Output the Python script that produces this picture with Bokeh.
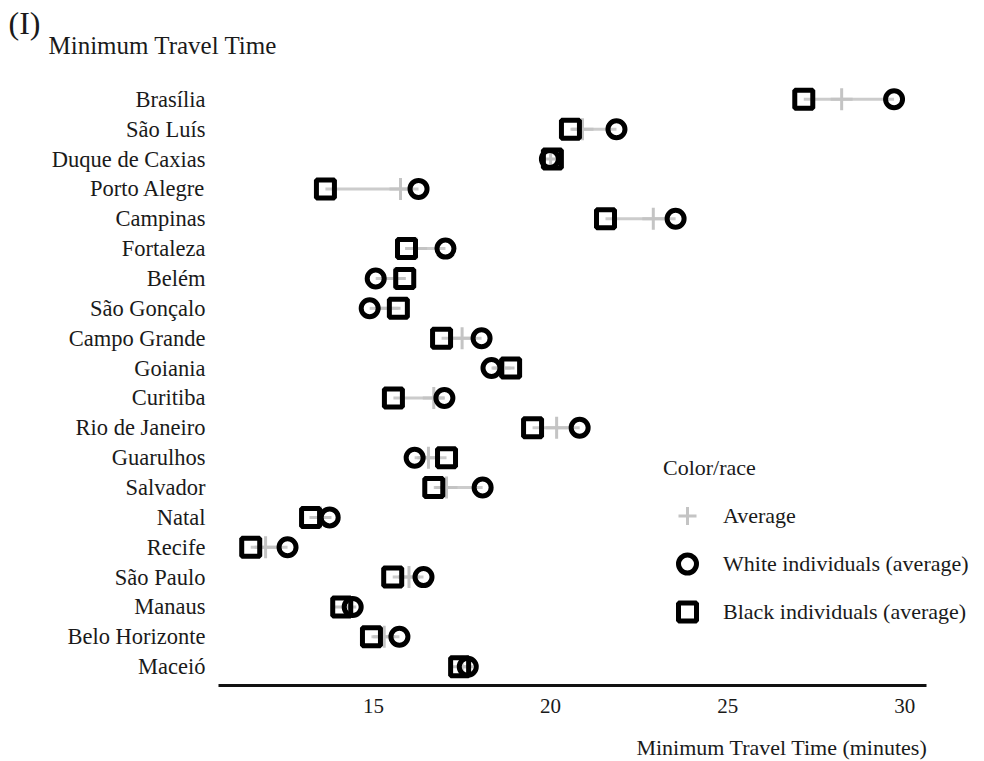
from bokeh.plotting import figure
from bokeh.layouts import column
from bokeh.models import Range1d, FactorRange, Legend, LegendItem, ColumnDataSource, FixedTicker, Label, Title
from bokeh.embed import file_html
from bokeh.resources import INLINE

cities = ["Brasília", "São Luís", "Duque de Caxias", "Porto Alegre", "Campinas",
          "Fortaleza", "Belém", "São Gonçalo", "Campo Grande", "Goiania",
          "Curitiba", "Rio de Janeiro", "Guarulhos", "Salvador", "Natal",
          "Recife", "São Paulo", "Manaus", "Belo Horizonte", "Maceió"]
black_avg = [27.15, 20.56, 20.05, 13.64, 21.55, 15.93, 15.88, 15.70, 16.92, 18.87,
             15.56, 19.49, 17.06, 16.70, 13.22, 11.53, 15.54, 14.10, 14.94, 17.43]
white_avg = [29.70, 21.86, 19.98, 16.27, 23.53, 17.03, 15.06, 14.89, 18.05, 18.33,
             17.00, 20.82, 16.16, 18.08, 13.76, 12.57, 16.41, 14.41, 15.73, 17.66]
overall_avg = [28.22, 20.90, 20.00, 15.76, 22.90, 16.20, 15.60, 15.45, 17.50, 18.67,
               16.70, 20.17, 16.55, 17.06, 13.50, 11.95, 16.00, 14.20, 15.30, 17.50]
x_ticks = [15, 20, 25, 30]

FONT = "Liberation Serif"
TXT = "#1a1a1a"
W = 980
FRAME_LEFT = 218


def text_strip(height, **borders):
    f = figure(width=W, height=height, output_backend="svg", toolbar_location=None,
               x_range=Range1d(0, 1), y_range=Range1d(0, 1),
               x_axis_type=None, y_axis_type=None, **borders)
    f.outline_line_color = None
    f.xgrid.grid_line_color = None
    f.ygrid.grid_line_color = None
    f.border_fill_color = "white"
    return f


# ---- top strip: panel tag and title (titles stacked below an empty frame)
top = text_strip(80, min_border_top=0, min_border_bottom=61)
t_tag = Title(text="(I)", align="left", offset=8 - FRAME_LEFT,
              text_font=FONT, text_font_size="32px", text_font_style="normal",
              text_color=TXT, vertical_align="middle", standoff=-31)
t_sub = Title(text="Minimum Travel Time", align="left", offset=48 - FRAME_LEFT,
              text_font=FONT, text_font_size="25px", text_font_style="normal",
              text_color=TXT, vertical_align="middle", standoff=8)
top.add_layout(t_tag, "below")
top.add_layout(t_sub, "below")

# ---- main chart
src = ColumnDataSource(dict(city=cities, black=black_avg, white=white_avg, avg=overall_avg))

MAIN_H = 645
p = figure(width=W, height=MAIN_H, output_backend="svg", toolbar_location=None,
           x_range=Range1d(10.62, 32.0),
           y_range=FactorRange(factors=cities[::-1], range_padding=0.13,
                               range_padding_units="absolute"),
           min_border_left=FRAME_LEFT, min_border_right=4, min_border_top=0,
           min_border_bottom=MAIN_H - 605)
p.outline_line_color = None
p.xgrid.grid_line_color = None
p.ygrid.grid_line_color = None
p.background_fill_color = "white"
p.border_fill_color = "white"

xa = p.xaxis[0]
xa.ticker = FixedTicker(ticks=x_ticks)
xa.bounds = (10.62, 30.62)
xa.axis_line_width = 3
xa.axis_line_color = "#111111"
xa.major_tick_line_color = None
xa.minor_tick_line_color = None
xa.major_tick_out = 0
xa.major_tick_in = 0
xa.major_label_standoff = 13
xa.major_label_text_font = FONT
xa.major_label_text_font_size = "21px"
xa.major_label_text_color = TXT

ya = p.yaxis[0]
ya.axis_line_color = None
ya.major_tick_line_color = None
ya.minor_tick_line_color = None
ya.major_tick_out = 0
ya.major_tick_in = 0
ya.major_label_standoff = 13
ya.major_label_text_font = FONT
ya.major_label_text_font_size = "22.5px"
ya.major_label_text_color = TXT

p.segment(x0="black", y0="city", x1="white", y1="city", source=src,
          line_color="#cccccc", line_width=3)
r_avg = p.scatter(x="avg", y="city", source=src, marker="cross", size=22,
                  line_color="#c4c4c4", line_width=3)
r_white = p.scatter(x="white", y="city", source=src, marker="circle", size=17,
                    fill_alpha=0, line_color="black", line_width=5)
r_black = p.scatter(x="black", y="city", source=src, marker="square", size=18,
                    fill_alpha=0, line_color="black", line_width=5)

legend = Legend(items=[LegendItem(label="Average", renderers=[r_avg]),
                       LegendItem(label="White individuals (average)", renderers=[r_white]),
                       LegendItem(label="Black individuals (average)", renderers=[r_black])],
                title="Color/race", location=(445, 51), orientation="vertical")
legend.border_line_color = None
legend.background_fill_alpha = 0
legend.padding = 0
legend.margin = 0
legend.spacing = 3
legend.glyph_width = 48
legend.glyph_height = 45
legend.label_height = 45
legend.label_standoff = 12
legend.label_text_font = FONT
legend.label_text_font_size = "22px"
legend.label_text_color = TXT
legend.title_text_font = FONT
legend.title_text_font_size = "22px"
legend.title_text_font_style = "normal"
legend.title_text_color = TXT
legend.title_standoff = 12
p.add_layout(legend, "center")

# ---- bottom strip: x axis title, right-aligned to the axis end
BOT_H = 35
bottom = text_strip(BOT_H, min_border_top=0, min_border_bottom=0)
bottom.add_layout(Label(x=927 - FRAME_LEFT, y=BOT_H - 22, x_units="screen", y_units="screen",
                        text="Minimum Travel Time (minutes)",
                        text_font=FONT, text_font_size="22px", text_color=TXT,
                        text_baseline="middle", text_align="right"))

layout = column(top, p, bottom, spacing=0)
open("out.html", "w").write(file_html(layout, INLINE))
